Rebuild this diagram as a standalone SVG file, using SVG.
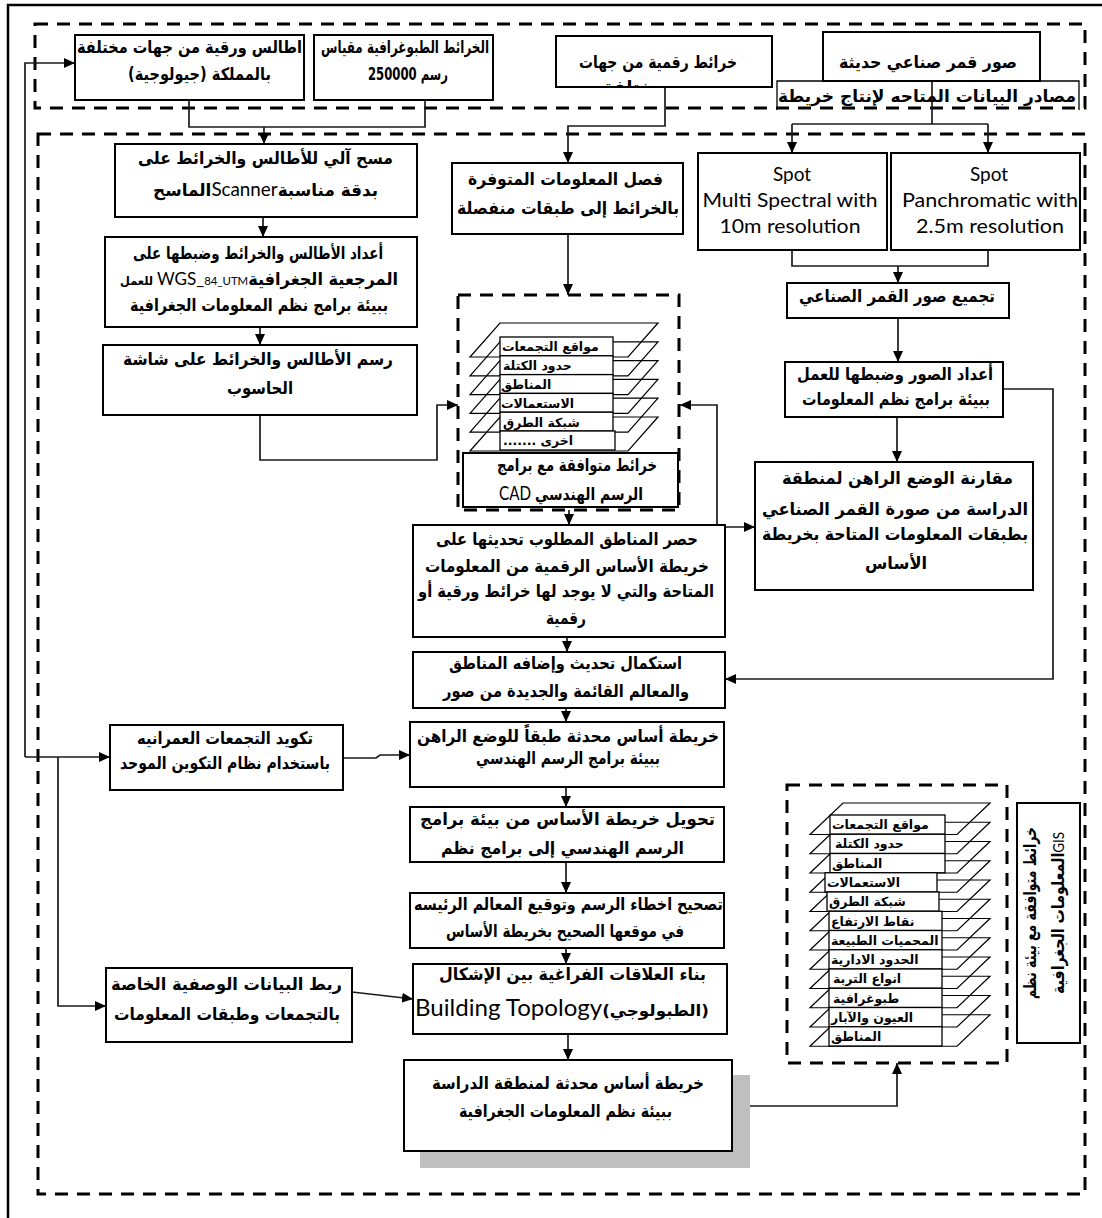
<svg xmlns="http://www.w3.org/2000/svg" width="1102" height="1218" viewBox="0 0 1102 1218">
<style>
.box{fill:#fff;stroke:#000;stroke-width:2}
.dash{fill:none;stroke:#000;stroke-width:3;stroke-dasharray:13 9}
.conn{fill:none;stroke:#1a1a1a;stroke-width:1.7}
.ar{font-family:'DejaVu Sans',sans-serif;font-weight:bold;font-size:17px;text-anchor:middle;direction:rtl;fill:#000}
.en{font-family:Lato,'Open Sans',sans-serif;font-size:19px;text-anchor:middle;fill:#000}
.enT{font-family:Lato,'Open Sans',sans-serif;font-weight:normal}
.lb{font-family:'DejaVu Sans',sans-serif;font-weight:bold;font-size:12.5px;fill:#000}
.layer{fill:none;stroke:#000;stroke-width:1.2}
.row{fill:#fff;stroke:#000;stroke-width:1.3}
</style>
<defs>
<marker id="ah" viewBox="0 0 11 10" refX="11" refY="5" markerWidth="11" markerHeight="10" markerUnits="userSpaceOnUse" orient="auto-start-reverse">
<path d="M0,0 L11,5 L0,10 z" fill="#000"/>
</marker>
<clipPath id="clipC"><rect x="556" y="36" width="216" height="51"/></clipPath>
</defs>
<rect width="1102" height="1218" fill="#fff"/>
<path d="M8,1218 V5 H1102" fill="none" stroke="#000" stroke-width="2.5"/>

<g id="containers">
<rect class="dash" x="35" y="24" width="1050" height="84"/>
<rect class="dash" x="38" y="134" width="1047" height="1060"/>
<rect id="cad-container" class="dash" x="458" y="295" width="221" height="215"/>
<rect id="gis-container" class="dash" x="787" y="785" width="220" height="278"/>
</g>

<g id="connectors">
<path class="conn" d="M189,100 V127 H425 V100"/>
<path class="conn" d="M264,127 V144" marker-end="url(#ah)"/>
<path class="conn" d="M665,87 V126 H568 V163" marker-end="url(#ah)"/>
<path class="conn" d="M932,81 V124"/>
<path class="conn" d="M792,124 H988"/>
<path class="conn" d="M792,124 V153" marker-end="url(#ah)"/>
<path class="conn" d="M988,124 V153" marker-end="url(#ah)"/>
<path class="conn" d="M792,250 V266 H988 V250"/>
<path class="conn" d="M898,266 V283" marker-end="url(#ah)"/>
<path class="conn" d="M898,318 V362" marker-end="url(#ah)"/>
<path class="conn" d="M897,417 V462" marker-end="url(#ah)"/>
<path class="conn" d="M1003,389 H1053 V679 H725" marker-end="url(#ah)"/>
<path class="conn" d="M263,217 V237" marker-end="url(#ah)"/>
<path class="conn" d="M260,327 V345" marker-end="url(#ah)"/>
<path class="conn" d="M260,415 V460 H437 V405 H458" marker-end="url(#ah)"/>
<path class="conn" d="M568,234 V295" marker-end="url(#ah)"/>
<path class="conn" d="M680,405 H717 V527 H755" marker-start="url(#ah)" marker-end="url(#ah)"/>
<path class="conn" d="M569,510 V525" marker-end="url(#ah)"/>
<path class="conn" d="M567,637 V652" marker-end="url(#ah)"/>
<path class="conn" d="M566,708 V722" marker-end="url(#ah)"/>
<path class="conn" d="M566,787 V807" marker-end="url(#ah)"/>
<path class="conn" d="M566,862 V893" marker-end="url(#ah)"/>
<path class="conn" d="M566,948 V964" marker-end="url(#ah)"/>
<path class="conn" d="M568,1034 V1060" marker-end="url(#ah)"/>
<path class="conn" d="M343,758 H376 L380,755 H410" marker-end="url(#ah)"/>
<path class="conn" d="M352,992 L413,999" marker-end="url(#ah)"/>
<path class="conn" d="M750,1106 H897 V1063" marker-end="url(#ah)"/>
<path class="conn" d="M25,757 V63 H75" marker-end="url(#ah)"/>
<path class="conn" d="M25,757 H110" marker-end="url(#ah)"/>
<path class="conn" d="M58,757 V1006 H106" marker-end="url(#ah)"/>
</g>

<g id="n-atlas">
<rect class="box" x="75" y="35" width="229" height="65"/>
<text class="ar" x="189.5" y="53" textLength="225" lengthAdjust="spacingAndGlyphs">اطالس ورقية من جهات مختلفة</text>
<text class="ar" x="199.5" y="80" textLength="143" lengthAdjust="spacingAndGlyphs">بالمملكة (جيولوجية)</text>
</g>
<g id="n-topo">
<rect class="box" x="314" y="35" width="179" height="65"/>
<text class="ar" x="405" y="53" textLength="168" lengthAdjust="spacingAndGlyphs">الخرائط الطبوغرافية مقياس</text>
<text class="ar" x="408" y="80" textLength="80" lengthAdjust="spacingAndGlyphs">رسم 250000</text>
</g>
<g id="n-digital">
<rect class="box" x="556" y="36" width="216" height="51"/>
<text class="ar" x="658" y="68" textLength="158" lengthAdjust="spacingAndGlyphs">خرائط رقمية من جهات</text>
<text class="ar" x="633" y="93" clip-path="url(#clipC)">مختلفة</text>
</g>
<g id="n-sources-label">
<path d="M777,110 V81 H1079 V110" fill="none" stroke="#000" stroke-width="1.3"/>
<text class="ar" x="927" y="102" font-size="14.5" textLength="298" lengthAdjust="spacingAndGlyphs">مصادر البيانات المتاحه لإنتاج خريطة</text>
</g>
<g id="n-satellite">
<rect class="box" x="823" y="32" width="217" height="49"/>
<text class="ar" x="928" y="68" textLength="178" lengthAdjust="spacingAndGlyphs">صور قمر صناعي حديثة</text>
</g>

<g id="n-scan">
<rect class="box" x="115" y="144" width="302" height="73"/>
<text class="ar" x="265.5" y="164" textLength="255" lengthAdjust="spacingAndGlyphs">مسح آلي للأطالس والخرائط على</text>
<text class="ar" x="265.5" y="196" textLength="225" lengthAdjust="spacingAndGlyphs">بدقة مناسبة<tspan class="enT" font-size="19">Scanner</tspan>الماسح</text>
</g>
<g id="n-georef">
<rect class="box" x="105" y="237" width="312" height="90"/>
<text class="ar" x="258" y="259" textLength="250" lengthAdjust="spacingAndGlyphs">أعداد الأطالس والخرائط وضبطها على</text>
<text class="ar" x="259" y="285" textLength="278" lengthAdjust="spacingAndGlyphs">المرجعية الجغرافية<tspan class="enT" font-size="18">WGS_</tspan><tspan class="enT" font-size="12">84_UTM</tspan><tspan font-size="12"> للعمل</tspan></text>
<text class="ar" x="259" y="311" textLength="258" lengthAdjust="spacingAndGlyphs">ببيئة برامج نظم المعلومات الجغرافية</text>
</g>
<g id="n-draw">
<rect class="box" x="103" y="345" width="314" height="70"/>
<text class="ar" x="258" y="365" textLength="270" lengthAdjust="spacingAndGlyphs">رسم الأطالس والخرائط على شاشة</text>
<text class="ar" x="260" y="394" textLength="66" lengthAdjust="spacingAndGlyphs">الحاسوب</text>
</g>
<g id="n-separate">
<rect class="box" x="452" y="163" width="231" height="71"/>
<text class="ar" x="565.5" y="185" textLength="195" lengthAdjust="spacingAndGlyphs">فصل المعلومات المتوفرة</text>
<text class="ar" x="568" y="214" textLength="222" lengthAdjust="spacingAndGlyphs">بالخرائط إلى طبقات منفصلة</text>
</g>
<g id="n-spot-ms">
<rect class="box" x="698" y="153" width="189" height="97"/>
<text class="en" x="792" y="181">Spot</text>
<text class="en" x="790" y="207" textLength="175" lengthAdjust="spacingAndGlyphs">Multi Spectral with</text>
<text class="en" x="790" y="233" textLength="141" lengthAdjust="spacingAndGlyphs">10m resolution</text>
</g>
<g id="n-spot-pan">
<rect class="box" x="891" y="153" width="189" height="97"/>
<text class="en" x="989" y="181">Spot</text>
<text class="en" x="990" y="207" textLength="176" lengthAdjust="spacingAndGlyphs">Panchromatic with</text>
<text class="en" x="990" y="233" textLength="148" lengthAdjust="spacingAndGlyphs">2.5m resolution</text>
</g>
<g id="n-mosaic">
<rect class="box" x="787" y="283" width="222" height="35"/>
<text class="ar" x="897" y="302" textLength="196" lengthAdjust="spacingAndGlyphs">تجميع صور القمر الصناعي</text>
</g>
<g id="n-prepare">
<rect class="box" x="785" y="362" width="218" height="55"/>
<text class="ar" x="895" y="380" textLength="196" lengthAdjust="spacingAndGlyphs">أعداد الصور وضبطها للعمل</text>
<text class="ar" x="896" y="405" textLength="188" lengthAdjust="spacingAndGlyphs">ببيئة برامج نظم المعلومات</text>
</g>
<g id="n-compare">
<rect class="box" x="755" y="462" width="278" height="128"/>
<text class="ar" x="897.5" y="484" textLength="231" lengthAdjust="spacingAndGlyphs">مقارنة الوضع الراهن لمنطقة</text>
<text class="ar" x="895" y="515" textLength="266" lengthAdjust="spacingAndGlyphs">الدراسة من صورة القمر الصناعي</text>
<text class="ar" x="895" y="540" textLength="266" lengthAdjust="spacingAndGlyphs">بطبقات المعلومات المتاحة بخريطة</text>
<text class="ar" x="896" y="569" textLength="62" lengthAdjust="spacingAndGlyphs">الأساس</text>
</g>

<g id="n-cad-stack">
<path class="layer" d="M500,323 H658 L628,357 H470 Z"/>
<path class="layer" d="M500,341.8 H658 L628,375.8 H470 Z"/>
<path class="layer" d="M500,360.6 H658 L628,394.6 H470 Z"/>
<path class="layer" d="M500,379.4 H658 L628,413.4 H470 Z"/>
<path class="layer" d="M500,398.2 H658 L628,432.2 H470 Z"/>
<path class="layer" d="M500,417 H658 L628,451 H470 Z"/>
<rect class="row" x="500" y="337" width="113" height="18.8"/>
<rect class="row" x="500" y="355.8" width="113" height="18.8"/>
<rect class="row" x="500" y="374.6" width="113" height="18.8"/>
<rect class="row" x="500" y="393.4" width="113" height="18.8"/>
<rect class="row" x="500" y="412.2" width="113" height="18.8"/>
<rect class="row" x="500" y="431" width="115" height="19"/>
<text class="lb" x="502" y="351">مواقع التجمعات</text>
<text class="lb" x="503" y="370">حدود الكتلة</text>
<text class="lb" x="501" y="389">المناطق</text>
<text class="lb" x="501" y="408">الاستعمالات</text>
<text class="lb" x="503" y="427">شبكة الطرق</text>
<text class="lb" x="503" y="445">....... اخرى</text>
</g>
<g id="n-cad-maps">
<rect class="box" x="463" y="453" width="215" height="54"/>
<text class="ar" x="577" y="471" font-size="16" textLength="160" lengthAdjust="spacingAndGlyphs">خرائط متوافقة مع برامج</text>
<text class="ar" x="589" y="500" font-size="16" textLength="108" lengthAdjust="spacingAndGlyphs">الرسم الهندسي</text>
<text class="en" x="515" y="500" font-size="17" textLength="32" lengthAdjust="spacingAndGlyphs">CAD</text>
</g>

<g id="n-limit">
<rect class="box" x="413" y="525" width="312" height="112"/>
<text class="ar" x="567" y="545" textLength="262" lengthAdjust="spacingAndGlyphs">حصر المناطق المطلوب تحديثها على</text>
<text class="ar" x="567" y="572" textLength="284" lengthAdjust="spacingAndGlyphs">خريطة الأساس الرقمية من المعلومات</text>
<text class="ar" x="566" y="597" textLength="296" lengthAdjust="spacingAndGlyphs">المتاحة والتي لا يوجد لها خرائط ورقية أو</text>
<text class="ar" x="566" y="624" textLength="40" lengthAdjust="spacingAndGlyphs">رقمية</text>
</g>
<g id="n-complete">
<rect class="box" x="413" y="652" width="312" height="56"/>
<text class="ar" x="565.5" y="669" textLength="233" lengthAdjust="spacingAndGlyphs">استكمال تحديث وإضافه المناطق</text>
<text class="ar" x="566" y="697" textLength="246" lengthAdjust="spacingAndGlyphs">والمعالم القائمة والجديدة من صور</text>
</g>
<g id="n-updated-cad">
<rect class="box" x="410" y="722" width="314" height="65"/>
<text class="ar" x="568" y="742" textLength="302" lengthAdjust="spacingAndGlyphs">خريطة أساس محدثة طبقاً للوضع الراهن</text>
<text class="ar" x="568" y="764" textLength="184" lengthAdjust="spacingAndGlyphs">ببيئة برامج الرسم الهندسي</text>
</g>
<g id="n-convert">
<rect class="box" x="410" y="807" width="314" height="55"/>
<text class="ar" x="567.5" y="825" textLength="295" lengthAdjust="spacingAndGlyphs">تحويل خريطة الأساس من بيئة برامج</text>
<text class="ar" x="562.5" y="854" textLength="243" lengthAdjust="spacingAndGlyphs">الرسم الهندسي إلى برامج نظم</text>
</g>
<g id="n-correct">
<rect class="box" x="410" y="893" width="314" height="55"/>
<text class="ar" x="568.5" y="910" textLength="309" lengthAdjust="spacingAndGlyphs">تصحيح اخطاء الرسم وتوقيع المعالم الرئيسه</text>
<text class="ar" x="565" y="937" textLength="238" lengthAdjust="spacingAndGlyphs">في موقعها الصحيح بخريطة الأساس</text>
</g>
<g id="n-topology">
<rect class="box" x="413" y="964" width="314" height="70"/>
<text class="ar" x="572.5" y="980" textLength="267" lengthAdjust="spacingAndGlyphs">بناء العلاقات الفراغية بين الإشكال</text>
<text class="ar" x="562" y="1016" textLength="294" lengthAdjust="spacingAndGlyphs"><tspan font-size="16">(الطبولوجي)</tspan><tspan class="enT" font-size="23">Building Topology</tspan></text>
</g>
<g id="n-final">
<rect x="420" y="1075" width="330" height="93" fill="#bfbfbf"/>
<rect class="box" x="404" y="1060" width="328" height="91"/>
<text class="ar" x="568" y="1089" textLength="272" lengthAdjust="spacingAndGlyphs">خريطة أساس محدثة لمنطقة الدراسة</text>
<text class="ar" x="565.5" y="1117" textLength="213" lengthAdjust="spacingAndGlyphs">ببيئة نظم المعلومات الجغرافية</text>
</g>
<g id="n-coding">
<rect class="box" x="110" y="725" width="233" height="65"/>
<text class="ar" x="225" y="744" textLength="176" lengthAdjust="spacingAndGlyphs">تكويد التجمعات العمرانيه</text>
<text class="ar" x="225" y="769" textLength="210" lengthAdjust="spacingAndGlyphs">باستخدام نظام التكوين الموحد</text>
</g>
<g id="n-link">
<rect class="box" x="106" y="968" width="246" height="74"/>
<text class="ar" x="226.5" y="990" textLength="231" lengthAdjust="spacingAndGlyphs">ربط البيانات الوصفية الخاصة</text>
<text class="ar" x="227" y="1020" textLength="226" lengthAdjust="spacingAndGlyphs">بالتجمعات وطبقات المعلومات</text>
</g>

<g id="n-gis-stack">
<path class="layer" d="M843,803 H990 L957,834.5 H810 Z"/>
<path class="layer" d="M843,822.25 H990 L957,853.75 H810 Z"/>
<path class="layer" d="M843,841.5 H990 L957,873 H810 Z"/>
<path class="layer" d="M843,860.75 H990 L957,892.25 H810 Z"/>
<path class="layer" d="M843,880 H990 L957,911.5 H810 Z"/>
<path class="layer" d="M843,899.25 H990 L957,930.75 H810 Z"/>
<path class="layer" d="M843,918.5 H990 L957,950 H810 Z"/>
<path class="layer" d="M843,937.75 H990 L957,969.25 H810 Z"/>
<path class="layer" d="M843,957 H990 L957,988.5 H810 Z"/>
<path class="layer" d="M843,976.25 H990 L957,1007.75 H810 Z"/>
<path class="layer" d="M843,995.5 H990 L957,1027 H810 Z"/>
<path class="layer" d="M843,1014.75 H990 L957,1046.25 H810 Z"/>
<rect class="row" x="830" y="815" width="115" height="19.25"/>
<rect class="row" x="830" y="834.25" width="115" height="19.25"/>
<rect class="row" x="830" y="853.5" width="115" height="19.25"/>
<rect class="row" x="825" y="872.75" width="112" height="19.25"/>
<rect class="row" x="827" y="892" width="112" height="19.25"/>
<rect class="row" x="829" y="911.25" width="113" height="19.25"/>
<rect class="row" x="829" y="930.5" width="113" height="19.25"/>
<rect class="row" x="829" y="949.75" width="113" height="19.25"/>
<rect class="row" x="829" y="969" width="113" height="19.25"/>
<rect class="row" x="829" y="988.25" width="113" height="19.25"/>
<rect class="row" x="829" y="1007.5" width="113" height="19.25"/>
<rect class="row" x="829" y="1026.75" width="113" height="19.25"/>
<text class="lb" x="832" y="829">مواقع التجمعات</text>
<text class="lb" x="835" y="848">حدود الكتلة</text>
<text class="lb" x="832" y="868">المناطق</text>
<text class="lb" x="827" y="887">الاستعمالات</text>
<text class="lb" x="829" y="906">شبكة الطرق</text>
<text class="lb" x="831" y="926">نقاط الارتفاع</text>
<text class="lb" x="831" y="945">المحميات الطبيعة</text>
<text class="lb" x="831" y="964">الحدود الادارية</text>
<text class="lb" x="833" y="983">انواع التربة</text>
<text class="lb" x="833" y="1003">طبوغرافية</text>
<text class="lb" x="831" y="1022">العيون والآبار</text>
<text class="lb" x="831" y="1041">المناطق</text>
</g>
<g id="n-gis-label">
<rect class="box" x="1017" y="803" width="63" height="240"/>
<g transform="translate(1048,923) rotate(-90)">
<text class="ar" x="10" y="-12" font-size="14.5" textLength="172" lengthAdjust="spacingAndGlyphs">خرائط متوافقة مع بيئة نظم</text>
<text class="ar" x="10" y="16" font-size="14.5" textLength="162" lengthAdjust="spacingAndGlyphs"><tspan class="enT" font-size="16">GIS</tspan>المعلومات الجغرافية</text>
</g>
</g>
</svg>
